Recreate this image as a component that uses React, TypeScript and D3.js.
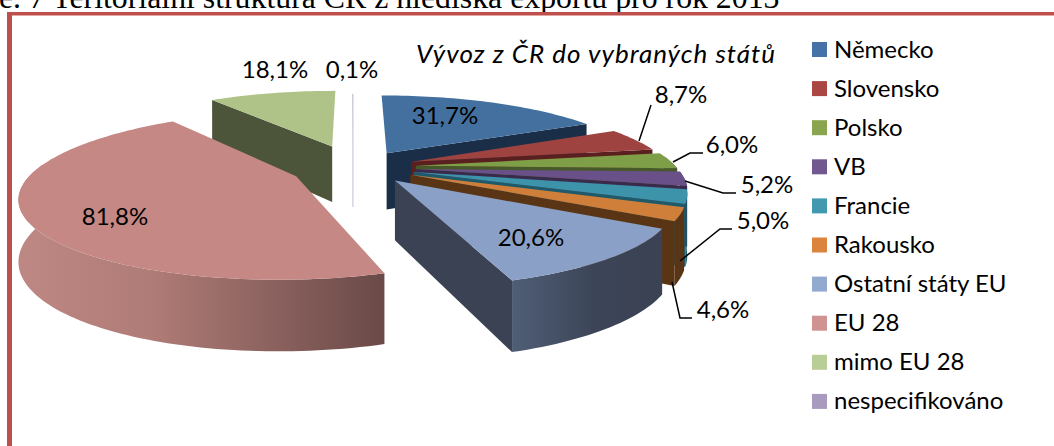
import React from "react";
import * as d3 from "d3";

const W = 1054, H = 446;
const categories = ["Německo", "Slovensko", "Polsko", "VB", "Francie", "Rakousko", "Ostatní státy EU", "EU 28", "mimo EU 28", "nespecifikováno"];
const values = [31.7, 8.7, 6.0, 5.2, 5.0, 4.6, 20.6, 81.8, 18.1, 0.1];
const labels = ["31,7%", "8,7%", "6,0%", "5,2%", "5,0%", "4,6%", "20,6%", "81,8%", "18,1%", "0,1%"];
const legendColors = ["#4572A7", "#AA4643", "#89A54E", "#71588F", "#4198AF", "#DB843D", "#93A9CF", "#D19392", "#B9CD96", "#A99BBD"];
const topColors = ["#44709f", "#9e4340", "#7f9e48", "#6a5088", "#3d93aa", "#cf7f3a", "#8aa0c6", "#c58884", "#afc389", "#c8c6d8"];
const wallColors = ["#1a2e48", "#5a2020", "#47582a", "#3a2b4d", "#1f5a6a", "#5a3515", "#3a4254", "#8a5f5c", "#4c543a", "#d4d4e0"];
const explode = [0.22, 0.22, 0.22, 0.22, 0.22, 0.22, 0.22, 0.26, 0.3, 0.22];
const nudgeX = [0, 0, 1, 1, 0, 0, 0, 0, -3, -5];
const paintOrder = [8, 9, 0, 1, 2, 3, 4, 5, 6, 7];

const X0 = 358, Y0 = 167, S = 260, SK = 76, P = 0.22, DEPTH = 58, PD = 0.17;
const pieGen = d3.pie<number>().sort(null).value((d) => d)(values);

type Pt = [number, number];
function project(u: number, v: number): Pt {
  const w = 1 + P * v;
  return [X0 + (S * u) / w, Y0 - (SK * v) / w];
}
function drop(v: number) { return DEPTH / (1 + PD * v); }

const line = d3.line<Pt>();

function sliceGeom(i: number) {
  const a0 = pieGen[i].startAngle, a1 = pieGen[i].endAngle;
  const mid = (a0 + a1) / 2, e = explode[i];
  const u0 = e * Math.sin(mid), v0 = e * Math.cos(mid);
  const n = Math.max(3, Math.ceil((a1 - a0) * 40));
  const ang = d3.range(n + 1).map((k) => a0 + ((a1 - a0) * k) / n);
  const uv = ang.map((a) => [u0 + Math.sin(a), v0 + Math.cos(a)] as Pt);
  const rim = uv.map(([u, v]) => project(u, v));
  const rimB = uv.map(([u, v]) => { const p = project(u, v); return [p[0], p[1] + drop(v)] as Pt; });
  const apex = project(u0, v0);
  const apexB: Pt = [apex[0], apex[1] + drop(v0)];
  return { a0, a1, ang, rim, rimB, apex, apexB };
}

const labelPos: [number, number][] = [
  [445, 124], [681, 103], [732, 153], [767, 193], [763, 229], [723, 318], [531, 246], [115, 225], [275, 78], [352, 78],
];
const leaders: [number, number][][] = [
  [], [[639, 141], [651, 105]], [[673, 162], [690, 153], [703, 153]], [[685, 181], [723, 193], [736, 193]],
  [[680, 261], [720, 229], [732, 229]], [[672, 282], [680, 318], [692, 318]], [], [], [], [],
];

export default function App() {
  return (
    <svg width={W} height={H} style={{ position: "fixed", left: 0, top: 0, background: "#fff" }}>
      <defs>
        <linearGradient id="euWall" gradientUnits="userSpaceOnUse" x1={25} x2={383} y1={0} y2={0}>
          <stop offset="0" stopColor="#bd8783" />
          <stop offset="0.35" stopColor="#b07c77" />
          <stop offset="1" stopColor="#6a4a48" />
        </linearGradient>
        <linearGradient id="ostWall" gradientUnits="userSpaceOnUse" x1={508} x2={653} y1={0} y2={0}>
          <stop offset="0" stopColor="#505f78" />
          <stop offset="0.6" stopColor="#3c4557" />
          <stop offset="1" stopColor="#3a4254" />
        </linearGradient>
      </defs>
      <text x={-1} y={8} fontFamily="'Liberation Serif'" fontSize={31.8} fill="#000">e. 7 Teritoriální struktura ČR z hlediska exportu pro rok 2013</text>
      <rect x={7} y={12} width={W - 7} height={3} fill="#bd4f4c" />
      <rect x={12} y={15} width={W - 12} height={1} fill="#e5a5a3" />
      <rect x={7} y={12} width={5} height={H - 12} fill="#bd4f4c" />
      <g>
        {paintOrder.map((i) => {
          const g = sliceGeom(i);
          const wall = i === 7 ? "url(#euWall)" : i === 6 ? "url(#ostWall)" : wallColors[i];
          const n0 = g.a0 - Math.PI / 2, n1 = g.a1 + Math.PI / 2;
          const thin = g.a1 - g.a0 < 0.02;
          const startVis = Math.cos(n0) < -0.01, endVis = thin || Math.cos(n1) < -0.01;
          const frontIdx = g.ang.map((a, k) => (Math.cos(a) < 0.15 ? k : -1)).filter((k) => k >= 0);
          const n = g.rim.length - 1;
          return (
            <g key={i} transform={`translate(${nudgeX[i]},0)`}>
              {startVis && <path d={(line([g.apex, g.rim[0], g.rimB[0], g.apexB]) ?? "") + "Z"} fill={wallColors[i]} />}
              {endVis && <path d={(line([g.apex, g.rim[n], g.rimB[n], g.apexB]) ?? "") + "Z"} fill={wallColors[i]} stroke={thin ? wallColors[i] : "none"} strokeWidth={thin ? 1 : 0} />}
              {frontIdx.length > 1 && (
                <path d={(line([...frontIdx.map((k) => g.rim[k]), ...frontIdx.map((k) => g.rimB[k]).reverse()]) ?? "") + "Z"} fill={wall} />
              )}
              <path d={(line([g.apex, ...g.rim]) ?? "") + "Z"} fill={topColors[i]} />
            </g>
          );
        })}
      </g>
      {leaders.map((pts, i) => pts.length > 0 && <path key={i} d={line(pts) ?? ""} fill="none" stroke="#000" strokeWidth={1.5} />)}
      <g fontFamily="Lato" fontSize={24} fill="#000" textAnchor="middle">
        {labels.map((t, i) => <text key={t} x={labelPos[i][0]} y={labelPos[i][1]}>{t}</text>)}
      </g>
      <text x={596} y={63} textAnchor="middle" fontFamily="Lato" fontStyle="italic" fontSize={26} letterSpacing={1} fill="#000">Vývoz z ČR do vybraných států</text>
      <g fontFamily="Lato" fontSize={24} fill="#000">
        {categories.map((c, i) => {
          const y = 42 + i * 39.1;
          return (
            <g key={c}>
              <rect x={812} y={y} width={15} height={15} fill={legendColors[i]} />
              <text x={834} y={y + 15.5}>{c}</text>
            </g>
          );
        })}
      </g>
    </svg>
  );
}
